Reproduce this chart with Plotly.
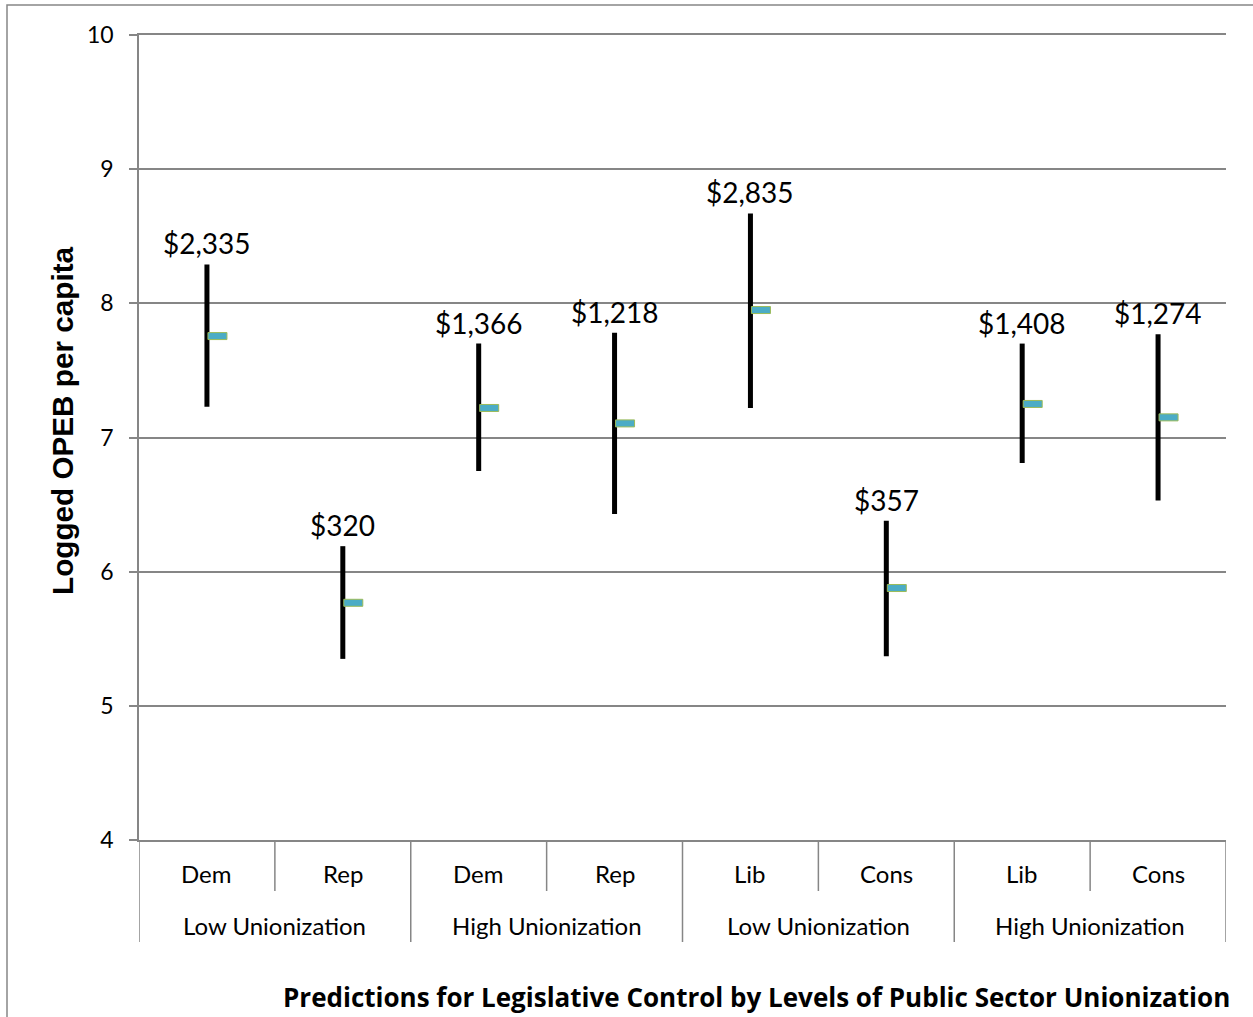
import plotly.graph_objects as go

categories = ["Dem", "Rep", "Dem", "Rep", "Lib", "Cons", "Lib", "Cons"]
groups = ["Low Unionization", "High Unionization", "Low Unionization", "High Unionization"]
high = [8.29, 6.19, 7.70, 7.78, 8.67, 6.38, 7.70, 7.77]
low = [7.23, 5.35, 6.75, 6.43, 7.22, 5.37, 6.81, 6.53]
close = [7.756, 5.768, 7.220, 7.105, 7.950, 5.878, 7.250, 7.150]
labels = ["$2,335", "$320", "$1,366", "$1,218", "$2,835", "$357", "$1,408", "$1,274"]
y_ticks = [4, 5, 6, 7, 8, 9, 10]

FONT = "Lato"
GRAY = "#868686"

xs, ys = [], []
for i, (h, l) in enumerate(zip(high, low)):
    xs += [i, i, None]
    ys += [l, h, None]

fig = go.Figure()
fig.add_trace(go.Scatter(x=xs, y=ys, mode="lines",
                         line=dict(color="black", width=5), hoverinfo="skip",
                         showlegend=False))

shapes = []
annotations = []
# close markers
for i, c in enumerate(close):
    shapes.append(dict(type="rect", xref="x", yref="y",
                       xsizemode="pixel", ysizemode="pixel",
                       xanchor=i, yanchor=c, x0=1, x1=20, y0=-3.5, y1=3.5,
                       fillcolor="#4BACC6", line=dict(color="#9BBB59", width=1),
                       layer="above"))
# data labels
for i, (h, t) in enumerate(zip(high, labels)):
    annotations.append(dict(x=i, y=h, xref="x", yref="y", text=t, showarrow=False,
                            yanchor="bottom", yshift=2,
                            font=dict(family=FONT, size=28, color="black")))
# category labels
for i, c in enumerate(categories):
    annotations.append(dict(x=i, y=0, xref="x", yref="paper", text=c, showarrow=False,
                            yanchor="middle", yshift=-33,
                            font=dict(family=FONT, size=24, color="black")))
for g, name in enumerate(groups):
    annotations.append(dict(x=2 * g + 0.5, y=0, xref="x", yref="paper", text=name,
                            showarrow=False, yanchor="middle", yshift=-85,
                            font=dict(family=FONT, size=24, color="black")))
# separators
for k in range(9):
    xk = k - 0.5
    depth = 102 if k % 2 == 0 else 51
    shapes.append(dict(type="line", xref="x", yref="paper", ysizemode="pixel",
                       yanchor=0, x0=xk, x1=xk, y0=-depth, y1=0,
                       line=dict(color=GRAY, width=1.5)))
# outer chart border
shapes.append(dict(type="rect", xref="paper", yref="paper",
                   xsizemode="pixel", ysizemode="pixel", xanchor=0, yanchor=1,
                   x0=-132, x1=1200, y0=-1100, y1=30,
                   line=dict(color=GRAY, width=1.5), fillcolor="rgba(0,0,0,0)",
                   layer="below"))

# axis titles
annotations.append(dict(x=(1232 - 139) / 1087, y=(840 - 997) / 805,
                        xref="paper", yref="paper", showarrow=False,
                        xanchor="right", yanchor="middle",
                        text="<b>Predictions for Legislative Control by Levels of Public Sector Unionization</b>",
                        font=dict(family="Open Sans", size=26, color="black")))
annotations.append(dict(x=(62 - 139) / 1087, y=(840 - 421) / 805,
                        xref="paper", yref="paper", showarrow=False,
                        xanchor="center", yanchor="middle", textangle=-90,
                        text="<b>Logged OPEB per capita</b>",
                        font=dict(family="Liberation Sans", size=29.7, color="black")))

fig.update_layout(
    width=1253, height=1017,
    margin=dict(l=139, r=27, t=35, b=177),
    paper_bgcolor="white", plot_bgcolor="white",
    shapes=shapes, annotations=annotations,
    xaxis=dict(range=[-0.5, 7.5], showticklabels=False, showgrid=False,
               zeroline=False, showline=True, mirror=True, linecolor=GRAY,
               linewidth=1.5, fixedrange=True),
    yaxis=dict(range=[4, 10], tickvals=y_ticks, showgrid=True, gridcolor=GRAY,
               gridwidth=1.5, zeroline=False, showline=True, linecolor=GRAY,
               linewidth=1.5, ticks="outside", ticklen=8, tickcolor=GRAY,
               tickwidth=1.5, ticklabelstandoff=11,
               tickfont=dict(family=FONT, size=23, color="black")),
    font=dict(family=FONT, size=23, color="black"),
)

fig.write_html("out.html")
